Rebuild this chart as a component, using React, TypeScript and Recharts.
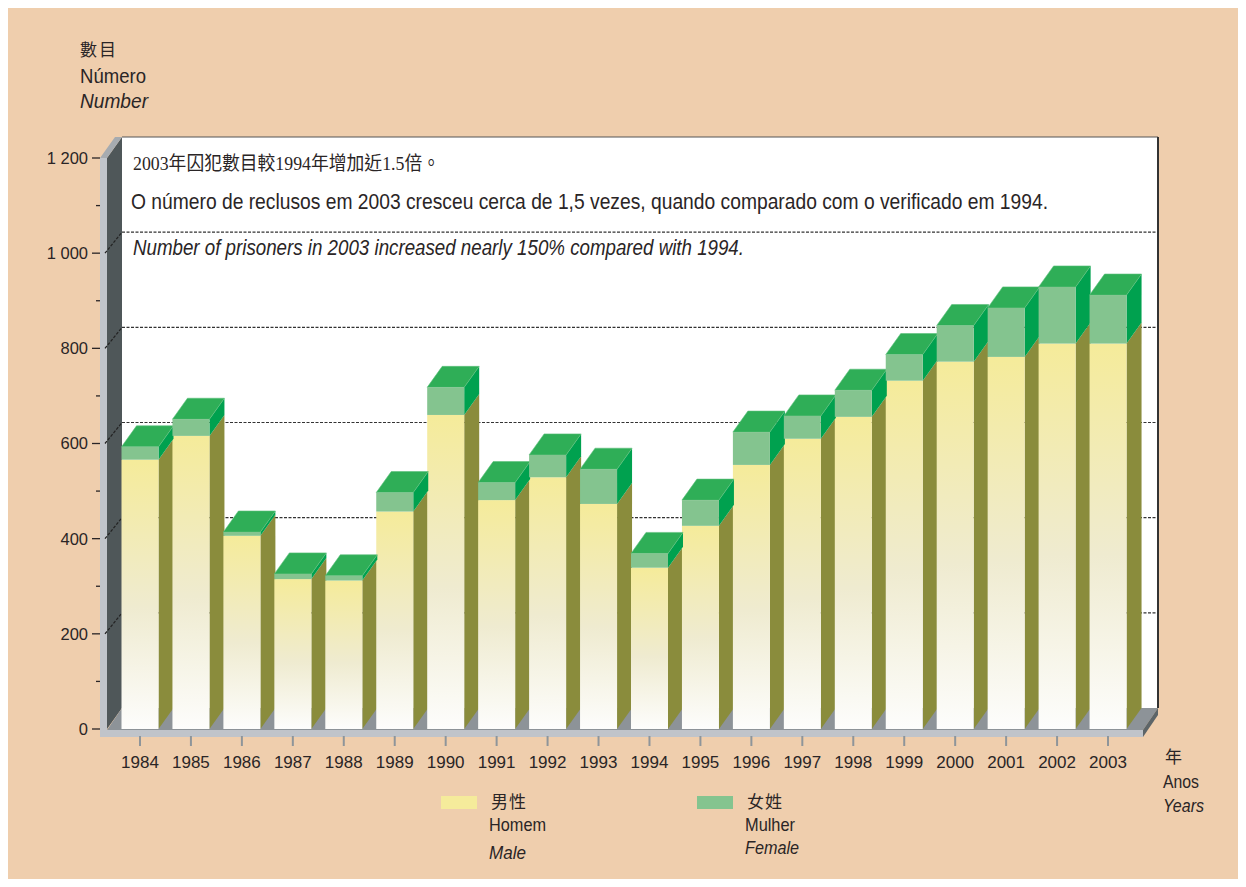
import React from 'react';
import { ComposedChart, Bar, XAxis, YAxis, CartesianGrid, ReferenceArea, Legend } from 'recharts';

const years = ['1984', '1985', '1986', '1987', '1988', '1989', '1990', '1991', '1992', '1993', '1994', '1995', '1996', '1997', '1998', '1999', '2000', '2001', '2002', '2003'];
const male = [566, 616, 406, 315, 312, 457, 660, 481, 529, 473, 339, 427, 555, 610, 656, 732, 772, 782, 810, 810];
const female = [27, 35, 8, 11, 10, 40, 58, 37, 47, 73, 30, 54, 69, 48, 56, 55, 76, 103, 119, 102];
const yTicks = [0, 100, 200, 300, 400, 500, 600, 700, 800, 900, 1000, 1100, 1200];
const gridValues = [200, 400, 600, 800, 1000];
const seriesKeys = ['male', 'female'];
const seriesZh = ['男性', '女姓'];
const seriesPt = ['Homem', 'Mulher'];
const seriesEn = ['Male', 'Female'];

const data = years.map((y, i) => ({ year: y, male: male[i], female: female[i] }));

const W = 1230;
const H = 871;
const DX = 15;
const DY = 21;
const NARROW = "'Liberation Sans Narrow', 'Liberation Sans', Arial, sans-serif";
const CJK = "'Liberation Serif', 'Noto Sans CJK TC', serif";
const TXT = '#2a2526';

const COLORS = {
  bg: '#EFCEAD',
  maleTop: '#F5EB9B',
  maleSide: '#8A8C3C',
  femFront: '#84C48F',
  femTop: '#2FAE57',
  femSide: '#00A14F',
  wall: '#4F5759',
  strip: '#C0C4CA',
  bevel: '#A6ABB0',
  floor: '#8D9398',
  floorSide: '#5D6568',
};

const fmt = (v: number) => (v >= 1000 ? `${Math.floor(v / 1000)} ${String(v % 1000).padStart(3, '0')}` : String(v));

const Decor = (props: any) => {
  const { x, y, width, height } = props;
  const PL = x, PT = y, PR = x + width, PB = y + height;
  const wf0 = PL - 14.5;
  const wf1 = PL - 7.5;
  const BL = wf1 + DX;
  const BT = PT - DY;
  const BB = PB - DY;
  const BR = PR + 24.5;
  const FR = BR - DX;
  return (
    <g>
      <rect x={BL} y={BT} width={BR - BL} height={BB - BT} fill="#ffffff" />
      <polygon points={`${wf1},${PT} ${BL},${BT} ${BL},${BB} ${wf1},${PB}`} fill={COLORS.wall} />
      <polygon points={`${wf0},${PT} ${wf1},${PT} ${BL},${BT} ${BL - 7},${BT}`} fill={COLORS.bevel} />
      <rect x={wf0} y={PT} width={wf1 - wf0} height={PB - PT + 8} fill={COLORS.strip} />
      <polygon points={`${wf1},${PB + 1} ${BL},${BB} ${BR},${BB} ${FR},${PB + 1}`} fill={COLORS.floor} />
      <rect x={wf0} y={PB + 1} width={FR - wf0} height={7} fill={COLORS.strip} />
      <polygon points={`${FR},${PB + 1} ${BR},${BB} ${BR},${BB + 7} ${FR},${PB + 8}`} fill={COLORS.floorSide} />
      <line x1={BL} y1={BT} x2={BR} y2={BT} stroke="#555" strokeWidth={1} />
      <line x1={BR} y1={BT} x2={BR} y2={BB} stroke="#333" strokeWidth={2} />
    </g>
  );
};

const GridLine = (p: any) => {
  const { x1, x2, y1 } = p;
  const BL = x1 + DX - 7.5;
  const BR = x2 + 24.5;
  return (
    <g key={p.key}>
      <line x1={x1 - 9.5} y1={y1} x2={BL} y2={y1 - DY} stroke="#222" strokeWidth={1.2} strokeDasharray="3 1.5" />
      <line x1={BL} y1={y1 - DY} x2={BR} y2={y1 - DY} stroke="#333" strokeWidth={1.2} strokeDasharray="3 1.5" />
    </g>
  );
};

const MaleShape = (props: any) => {
  const { x, y, width: w, height: h, index } = props;
  if (h == null || w == null) return null;
  const id = `mg${index}`;
  return (
    <g>
      <defs>
        <linearGradient id={id} x1="0" y1="0" x2="0" y2="1">
          <stop offset="0" stopColor="#F5EB9A" />
          <stop offset="0.55" stopColor="#EFEBD0" />
          <stop offset="1" stopColor="#FDFDFC" />
        </linearGradient>
      </defs>
      <polygon points={`${x + w},${y} ${x + w + DX},${y - DY} ${x + w + DX},${y + h - DY} ${x + w},${y + h}`} fill={COLORS.maleSide} />
      <rect x={x} y={y} width={w} height={h} fill={`url(#${id})`} />
    </g>
  );
};

const FemaleShape = (props: any) => {
  const { x, y, width: w, height: h } = props;
  if (h == null || w == null) return null;
  return (
    <g>
      <polygon points={`${x + w},${y} ${x + w + DX},${y - DY} ${x + w + DX},${y + h - DY} ${x + w},${y + h}`} fill={COLORS.femSide} />
      <polygon points={`${x},${y} ${x + DX},${y - DY} ${x + w + DX},${y - DY} ${x + w},${y}`} fill={COLORS.femTop} stroke="#5cc07a" strokeWidth={0.6} />
      <rect x={x} y={y} width={w} height={h} fill={COLORS.femFront} />
    </g>
  );
};

const YTick = (props: any) => {
  const { y, payload } = props;
  const v = payload.value;
  const major = v % 200 === 0;
  return (
    <g>
      <line x1={major ? 84 : 88} y1={y} x2={92} y2={y} stroke={TXT} strokeWidth={1.3} />
      {major && (
        <text x={80} y={y} dy="0.36em" textAnchor="end" fontFamily={NARROW} fontSize={16.5} fill={TXT}>
          {fmt(v)}
        </text>
      )}
    </g>
  );
};

const XTick = (props: any) => {
  const { x, y, payload } = props;
  return (
    <g>
      <line x1={x} y1={y + 7} x2={x} y2={y + 17} stroke="#8E959A" strokeWidth={2} />
      <text x={x} y={y + 39} textAnchor="middle" fontFamily={NARROW} fontSize={17} fill={TXT}>
        {payload.value}
      </text>
    </g>
  );
};

const LegendContent = (props: any) => {
  const payload = props.payload || [];
  const offsets = [0, 256];
  const enY = [71, 66];
  const ptLen = [57, 50];
  const enLen = [37, 54];
  return (
    <svg width={420} height={90} style={{ display: 'block', overflow: 'visible' }}>
      {seriesKeys.map((k, i) => {
        const p = payload.find((q: any) => q.dataKey === k) || payload[i] || {};
        return (
          <g key={k} transform={`translate(${offsets[i]},0)`}>
            <rect x={0} y={8} width={36} height={13} fill={p.color} />
            <text x={50} y={20} fontFamily={CJK} fontSize={17} fill={TXT} letterSpacing={1}>{seriesZh[i]}</text>
            <text x={48} y={43} fontFamily={NARROW} fontSize={19} fill={TXT} textLength={ptLen[i]} lengthAdjust="spacingAndGlyphs">{seriesPt[i]}</text>
            <text x={48} y={enY[i]} fontFamily={NARROW} fontStyle="italic" fontSize={19} fill={TXT} textLength={enLen[i]} lengthAdjust="spacingAndGlyphs">{seriesEn[i]}</text>
          </g>
        );
      })}
    </svg>
  );
};

export default function App() {
  return (
    <div style={{ position: 'relative', width: W, height: H, background: COLORS.bg }}>
      <ComposedChart
        width={W}
        height={H}
        data={data}
        margin={{ top: 150, right: 104.5, bottom: 120, left: 46.5 }}
        barCategoryGap={0}
      >
        <ReferenceArea y1={0} y2={1200} shape={(p: any) => <Decor {...p} />} zIndex={-200} isFront={false} />
        <CartesianGrid vertical={false} horizontalValues={gridValues} horizontal={(p: any) => <GridLine {...p} />} />
        <XAxis dataKey="year" axisLine={false} tickLine={false} tickSize={0} tickMargin={0} height={30} interval={0} tick={<XTick />} />
        <YAxis type="number" domain={[0, 1200]} ticks={yTicks} interval={0} width={60} axisLine={false} tickLine={false} tick={<YTick />} />
        <Bar dataKey="male" name={seriesZh[0]} stackId="a" barSize={37} fill={COLORS.maleTop} shape={(p: any) => <MaleShape {...p} />} isAnimationActive={false} />
        <Bar dataKey="female" name={seriesZh[1]} stackId="a" barSize={37} fill={COLORS.femFront} shape={(p: any) => <FemaleShape {...p} />} isAnimationActive={false} />
        <Legend
          layout="vertical"
          align="center"
          verticalAlign="middle"
          content={<LegendContent />}
          wrapperStyle={{ position: 'absolute', left: 433, top: 780, width: 420, height: 90 }}
        />
      </ComposedChart>
      <svg width={W} height={H} style={{ position: 'absolute', left: 0, top: 0, pointerEvents: 'none' }}>
        <text x={72} y={48} fontFamily={CJK} fontSize={17} fill={TXT} letterSpacing={2}>數目</text>
        <text x={72} y={75} fontFamily={NARROW} fontSize={20} fill={TXT} textLength={66} lengthAdjust="spacingAndGlyphs">Número</text>
        <text x={72} y={100} fontFamily={NARROW} fontStyle="italic" fontSize={20} fill={TXT} textLength={68} lengthAdjust="spacingAndGlyphs">Number</text>
        <text x={125} y={162} fontFamily={CJK} fontSize={19} fill={TXT} textLength={307} lengthAdjust="spacingAndGlyphs">2003年囚犯數目較1994年增加近1.5倍。</text>
        <text x={123} y={201} fontFamily={NARROW} fontSize={22} fill={TXT} textLength={917} lengthAdjust="spacingAndGlyphs">O número de reclusos em 2003 cresceu cerca de 1,5 vezes, quando comparado com o verificado em 1994.</text>
        <text x={125} y={247} fontFamily={NARROW} fontStyle="italic" fontSize={22} fill={TXT} textLength={611} lengthAdjust="spacingAndGlyphs">Number of prisoners in 2003 increased nearly 150% compared with 1994.</text>
        <text x={1157} y={755} fontFamily={CJK} fontSize={17} fill={TXT}>年</text>
        <text x={1155} y={780} fontFamily={NARROW} fontSize={19} fill={TXT} textLength={36} lengthAdjust="spacingAndGlyphs">Anos</text>
        <text x={1155} y={804} fontFamily={NARROW} fontStyle="italic" fontSize={19} fill={TXT} textLength={41} lengthAdjust="spacingAndGlyphs">Years</text>
      </svg>
    </div>
  );
}
